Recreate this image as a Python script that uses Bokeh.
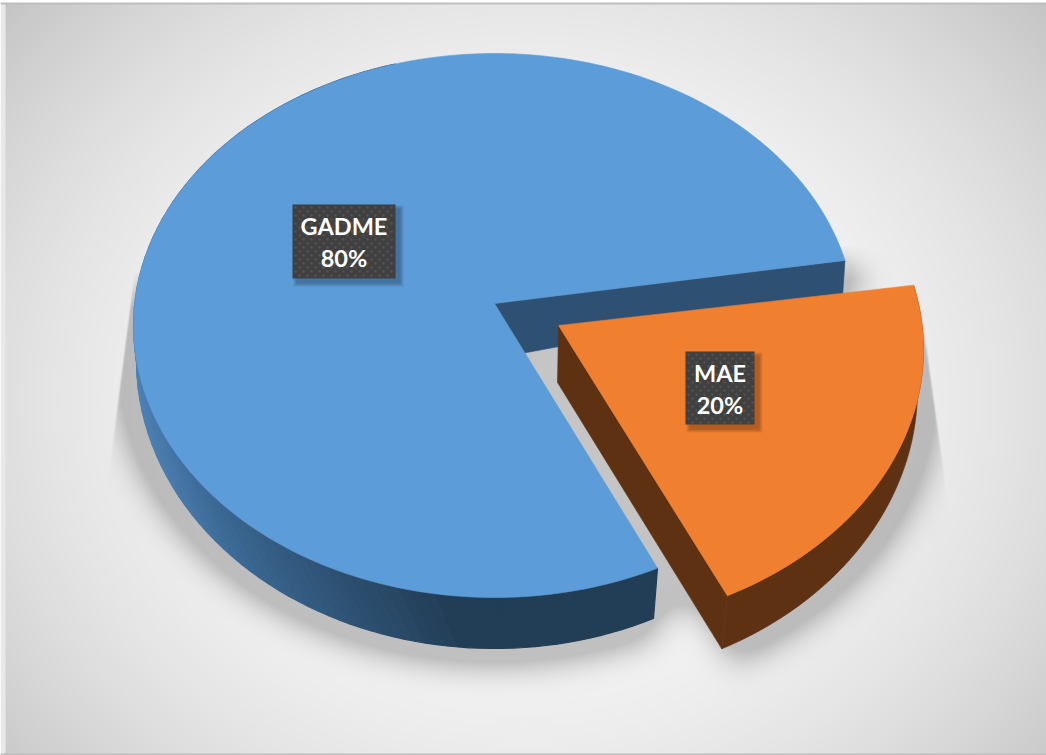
import numpy as np
from bokeh.core.properties import value
from bokeh.embed import file_html
from bokeh.models import Range1d
from bokeh.plotting import figure
from bokeh.resources import INLINE

# Chart data
categories = ["GADME", "MAE"]
shares = [80, 20]

W, H = 1046, 755
BLUE_TOP = "#5c9cd9"
ORANGE_TOP = "#f17f30"
BROWN = "#5f3113"
BLUE_CUT = "#2e5173"
# colour of the blue rim wall, running from its left end towards the front
WALL_X = [135, 240, 340, 450, 1000]
WALL_R = [78, 58, 47, 35, 34]
WALL_G = [130, 102, 83, 63, 62]
WALL_B = [181, 144, 117, 88, 86]


class Disc:
    """A pie face seen in perspective: rays leave an apex and stop on an ellipse."""

    def __init__(self, apex, centre, radii, aspect, start):
        self.ax, self.ay = apex
        self.cx, self.cy = centre
        self.rx, self.ry = radii
        self.aspect = aspect
        self.start = start

    def rim(self, sweep):
        th = np.radians(self.start + np.asarray(sweep, dtype=float))
        dx, dy = self.aspect * np.cos(th), -np.sin(th)
        px, py = (self.ax - self.cx) / self.rx, (self.ay - self.cy) / self.ry
        qx, qy = dx / self.rx, dy / self.ry
        a = qx**2 + qy**2
        b = 2 * (px * qx + py * qy)
        c = px**2 + py**2 - 1
        t = (-b + np.sqrt(b**2 - 4 * a * c)) / (2 * a)
        return self.ax + t * dx, self.ay + t * dy


blue_top = Disc((494, 303), (494, 325), (361, 272), 1.23, 8.6)
blue_low = Disc((494, 358), (494, 360), (358, 288), 1.085, 11.4)
orange_top = Disc((558, 325), (557, 349), (366, 278), 1.27, 8.2)
orange_low = Disc((557, 382), (555, 389), (362, 292), 1.2, 9.2)

total = sum(shares)
blue_span = 360 * shares[0] / total
orange_span = 360 * shares[1] / total


def box_blur(a, radius, axis):
    n = 2 * radius + 1
    pad = [(radius + 1, radius) if i == axis else (0, 0) for i in range(2)]
    c = np.cumsum(np.pad(a, pad, mode="edge"), axis=axis)
    hi = np.take(c, range(n, c.shape[axis]), axis=axis)
    lo = np.take(c, range(0, c.shape[axis] - n), axis=axis)
    return (hi - lo) / n


def soften(a, radius):
    for _ in range(3):
        a = box_blur(box_blur(a, radius, 0), radius, 1)
    return a


def backdrop():
    yy, xx = np.mgrid[0:H, 0:W] + 0.5
    t = np.sqrt((((xx - 525) / 520) ** 2 + ((yy - 400) / 450) ** 2) / 2)
    grey = 250 - 62 * np.clip(t, 0, 1.1) ** 2.4

    # cast shadow of both slices, from their enlarged lower faces
    def wedge(d, lo, hi, grow):
        inside = ((xx - d.cx) / (d.rx * grow)) ** 2 + ((yy - d.cy) / (d.ry * grow)) ** 2 < 1
        ang = np.degrees(np.arctan2((d.ay - yy), (xx - d.ax) / d.aspect)) - d.start
        ang = np.mod(ang, 360)
        return inside & (ang >= lo) & (ang <= hi)

    grow = 1.07
    mask = wedge(blue_low, 0, blue_span, grow).astype(float)
    mask = np.maximum(mask, wedge(orange_low, 360 - orange_span, 360, grow).astype(float))
    # the gap itself lies in shade as well
    mask = np.maximum(mask, wedge(blue_low, 0, 360, 1.0).astype(float))
    blurred = soften(mask, 16)
    left = np.clip((xx - (133 - (yy - 275) * 25 / 195)) / 2, 0, 1)
    right = np.clip(((923 + (yy - 320) * 25 / 180) - xx) / 2, 0, 1)
    fade_from = np.where(xx < 494, 272, 245)
    upper = np.clip((yy - fade_from) / 35, 0, 1)
    alpha = 0.21 * np.clip(blurred * 1.55, 0, 1) ** 1.35 * left * right * upper
    grey = grey * (1 - alpha)

    # plain strips round the plot area
    grey[:, :5] = 232
    grey[:2, :] = 255
    grey[2:4, :] = 190
    grey[-2:, :] = 190

    img = np.empty((H, W), dtype=np.uint32)
    view = img.view(np.uint8).reshape((H, W, 4))
    view[..., 0] = view[..., 1] = view[..., 2] = np.round(grey).astype(np.uint8)
    view[..., 3] = 255
    return img[::-1]


def flip(ys):
    return H - np.asarray(ys, dtype=float)


p = figure(
    width=W, height=H, x_range=Range1d(0, W), y_range=Range1d(0, H),
    output_backend="svg", toolbar_location=None, min_border=0,
    outline_line_color=None, background_fill_color="white", border_fill_color="white",
)
p.axis.visible = False
p.grid.visible = False
p.image_rgba(image=[backdrop()], x=0, y=0, dw=W, dh=H)


def poly(xs, ys, color, line_width=0.6):
    p.patch(list(xs), list(flip(ys)), fill_color=color, line_color=color, line_width=line_width)


# blue rim wall, in narrow strips so it can darken towards the front
sweep = np.arange(100, blue_span + 0.01, 2.0)
tx, ty = blue_top.rim(sweep)
lx, ly = blue_low.rim(sweep)
for i in range(len(sweep) - 1):
    mid = (tx[i] + tx[i + 1] + lx[i] + lx[i + 1]) / 4
    r = np.interp(mid, WALL_X, WALL_R)
    g = np.interp(mid, WALL_X, WALL_G)
    b = np.interp(mid, WALL_X, WALL_B)
    color = "#%02x%02x%02x" % (int(r), int(g), int(b))
    poly([tx[i], tx[i + 1], lx[i + 1], lx[i]], [ty[i], ty[i + 1], ly[i + 1], ly[i]], color, 1.2)

# blue cut face showing through the gap
x1, y1 = blue_top.rim(0.0)
x2, y2 = blue_low.rim(0.0)
poly([blue_top.ax, x1, x2, blue_low.ax], [blue_top.ay, y1, y2, blue_low.ay], BLUE_CUT)

sweep = np.linspace(0, blue_span, 241)
tx, ty = blue_top.rim(sweep)
poly(np.r_[blue_top.ax, tx], np.r_[blue_top.ay, ty], BLUE_TOP)

# orange slice: walls first, top face over them
sweep = np.linspace(-orange_span, 0, 61)
tx, ty = orange_top.rim(sweep)
lx, ly = orange_low.rim(sweep)
poly(np.r_[tx, lx[::-1]], np.r_[ty, ly[::-1]], BROWN)
poly([orange_top.ax, tx[0], lx[0], orange_low.ax], [orange_top.ay, ty[0], ly[0], orange_low.ay], BROWN)
poly(np.r_[orange_top.ax, tx], np.r_[orange_top.ay, ty], ORANGE_TOP)

# data labels
LABEL_BOXES = {"GADME": (292, 204, 395, 278), "MAE": (685, 351, 754, 424)}
LABEL_LINES = {"GADME": (225, 257), "MAE": (372, 404)}
for name, share in zip(categories, shares):
    x0, y0, x1, y1 = LABEL_BOXES[name]
    for grow in range(4, 0, -1):
        p.quad(left=x0 + 5 - grow, right=x1 + 4 + grow, top=H - (y0 + 5 - grow), bottom=H - (y1 + 4 + grow),
               fill_color="#000000", fill_alpha=0.07, line_color=None)
    p.quad(left=x0, right=x1, top=H - y0, bottom=H - y1, fill_color="#404040", line_color=None)
    dots_x, dots_y = [], []
    for row, yy in enumerate(np.arange(y0 + 3, y1 - 1, 4.0)):
        for xx in np.arange(x0 + 3 + (row % 2) * 4, x1 - 1, 8.0):
            dots_x.append(xx)
            dots_y.append(H - yy)
    p.scatter(dots_x, dots_y, size=2.6, marker="circle", fill_color="#525252", line_color=None)
    cx = (x0 + x1) / 2
    line1, line2 = LABEL_LINES[name]
    p.text(x=[cx, cx], y=[H - line1, H - line2], text=[name, f"{share}%"],
           text_color="white", text_font=value("Lato"), text_font_style="bold",
           text_font_size="23.5px", text_align="center", text_baseline="middle")

open("out.html", "w").write(file_html(p, INLINE))
